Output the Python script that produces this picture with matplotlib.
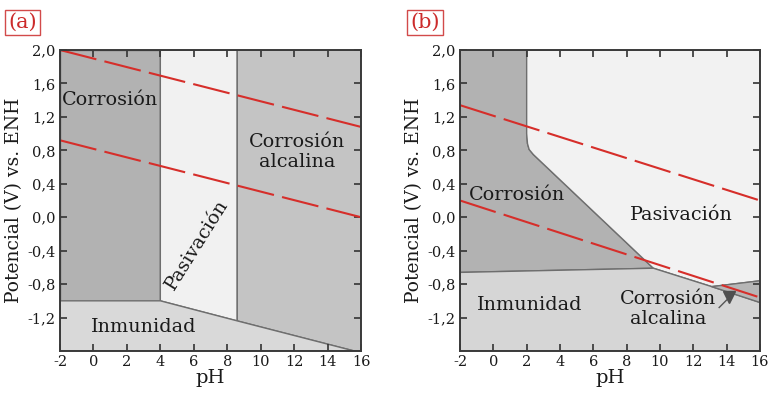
import matplotlib
matplotlib.use("Agg")
import matplotlib.pyplot as plt

plt.rcParams['font.family'] = ['DejaVu Serif']
plt.rcParams['axes.unicode_minus'] = False

# tick values / labels (comma decimals as in the original)
x_ticks = [-2, 0, 2, 4, 6, 8, 10, 12, 14, 16]
x_labels = ['-2', '0', '2', '4', '6', '8', '10', '12', '14', '16']
y_ticks = [-1.2, -0.8, -0.4, 0.0, 0.4, 0.8, 1.2, 1.6, 2.0]
y_labels = ['-1,2', '-0,8', '-0,4', '0,0', '0,4', '0,8', '1,2', '1,6', '2,0']

# panel (a) regions (pH, E)
a_corr_x = [-2, 4, 4, -2]
a_corr_y = [2.0, 2.0, -1.0, -1.0]
a_pas_x = [4, 8.6, 8.6, 4]
a_pas_y = [2.0, 2.0, -1.24, -1.0]
a_alk_x = [8.6, 16, 16, 15.6, 8.6]
a_alk_y = [2.0, 2.0, -1.6, -1.6, -1.24]
a_inm_x = [-2, 4, 8.6, 15.6, -2]
a_inm_y = [-1.0, -1.0, -1.24, -1.6, -1.6]

# panel (a) water lines
a_h2o_x = [-2, 16]
a_o2_y = [2.0, 1.08]
a_h2_y = [0.92, 0.0]

# panel (b) regions
b_corr_x = [-2, 2.0, 2.0, 2.05, 2.15, 2.4, 9.6, -2]
b_corr_y = [2.0, 2.0, 1.0, 0.88, 0.81, 0.75, -0.61, -0.66]
b_pas_x = [2.0, 16, 16, 13.1, 9.6, 2.4, 2.15, 2.05, 2.0]
b_pas_y = [2.0, 2.0, -0.76, -0.83, -0.61, 0.75, 0.81, 0.88, 1.0]
b_inm_x = [-2, 9.6, 13.1, 16, 16, -2]
b_inm_y = [-0.66, -0.61, -0.83, -1.02, -1.6, -1.6]
b_alk_x = [13.1, 16, 16]
b_alk_y = [-0.83, -0.76, -1.02]

# panel (b) water lines
b_h2o_x = [-2, 16]
b_o2_y = [1.34, 0.2]
b_h2_y = [0.2, -0.96]

# arrow pointing at the small alkaline wedge
b_arrow_x = [13.55, 14.0]
b_arrow_y = [-1.08, -0.99]
b_head_x = 14.15
b_head_y = -0.95

edge = '#6e6e6e'
red = '#d62e2a'
txt = '#1a1a1a'


def region(ax, xs, ys, color):
    ax.fill(xs, ys, facecolor=color, edgecolor=edge, linewidth=1.0, zorder=1)


def water_line(ax, xs, ys):
    ax.plot(xs, ys, color=red, linewidth=1.5, dashes=(18, 4),
            solid_capstyle='butt', zorder=3, clip_on=True)


def setup_axes(ax, tag, tag_x):
    ax.set_xlim(-2, 16)
    ax.set_ylim(-1.6, 2.0)
    ax.set_xticks(x_ticks)
    ax.set_xticklabels(x_labels)
    ax.set_yticks(y_ticks)
    ax.set_yticklabels(y_labels)
    ax.tick_params(direction='in', top=True, right=True, length=5, width=1.2,
                   color='#333333', labelsize=10.5, labelcolor=txt, pad=3)
    for s in ax.spines.values():
        s.set_linewidth(1.4)
        s.set_color('#3a3a3a')
        s.set_zorder(5)
    ax.set_xlabel('pH', fontsize=14, color=txt, labelpad=0)
    ax.set_ylabel('Potencial (V) vs. ENH', fontsize=13.5, color=txt, labelpad=3)
    ax.text(tag_x, 1.06, tag, transform=ax.transAxes, fontsize=15, color='#cc2b2b',
            ha='left', va='bottom',
            bbox=dict(boxstyle='square,pad=0.16', facecolor='white',
                      edgecolor='#d24a4a', linewidth=1.0))


fig = plt.figure(figsize=(7.71, 3.93), dpi=100)

# ---------------- panel (a)
ax1 = fig.add_axes([60 / 771, 1 - 351 / 393, 301 / 771, 301 / 393])
region(ax1, a_corr_x, a_corr_y, '#b2b2b2')
region(ax1, a_pas_x, a_pas_y, '#f1f1f1')
region(ax1, a_alk_x, a_alk_y, '#c4c4c4')
region(ax1, a_inm_x, a_inm_y, '#d9d9d9')
water_line(ax1, a_h2o_x, a_o2_y)
water_line(ax1, a_h2o_x, a_h2_y)
ax1.text(1.0, 1.4, 'Corrosión', fontsize=13.8, color=txt, ha='center', va='center', zorder=4)
ax1.text(12.2, 0.78, 'Corrosión\nalcalina', fontsize=13.8, color=txt, ha='center',
         va='center', linespacing=1.2, zorder=4)
ax1.text(6.2, -0.33, 'Pasivación', fontsize=13.8, color=txt, ha='center', va='center',
         rotation=58, zorder=4)
ax1.text(3.0, -1.31, 'Inmunidad', fontsize=13.8, color=txt, ha='center', va='center', zorder=4)
setup_axes(ax1, '(a)', -0.172)

# ---------------- panel (b)
ax2 = fig.add_axes([460 / 771, 1 - 351 / 393, 300 / 771, 301 / 393])
region(ax2, b_corr_x, b_corr_y, '#b2b2b2')
region(ax2, b_pas_x, b_pas_y, '#f2f2f2')
region(ax2, b_inm_x, b_inm_y, '#d6d6d6')
region(ax2, b_alk_x, b_alk_y, '#b6b6b6')
water_line(ax2, b_h2o_x, b_o2_y)
water_line(ax2, b_h2o_x, b_h2_y)
ax2.plot(b_arrow_x, b_arrow_y, color='#555555', linewidth=1.0, zorder=4)
ax2.plot([b_head_x], [b_head_y], marker='v', markersize=9, color='#505050', zorder=4)
ax2.text(1.4, 0.27, 'Corrosión', fontsize=13.8, color=txt, ha='center', va='center', zorder=4)
ax2.text(11.3, 0.03, 'Pasivación', fontsize=13.8, color=txt, ha='center', va='center', zorder=4)
ax2.text(2.2, -1.05, 'Inmunidad', fontsize=13.8, color=txt, ha='center', va='center', zorder=4)
ax2.text(10.5, -1.1, 'Corrosión\nalcalina', fontsize=13.8, color=txt, ha='center',
         va='center', linespacing=1.15, zorder=4)
setup_axes(ax2, '(b)', -0.167)

fig.savefig('out.png', dpi=100)
